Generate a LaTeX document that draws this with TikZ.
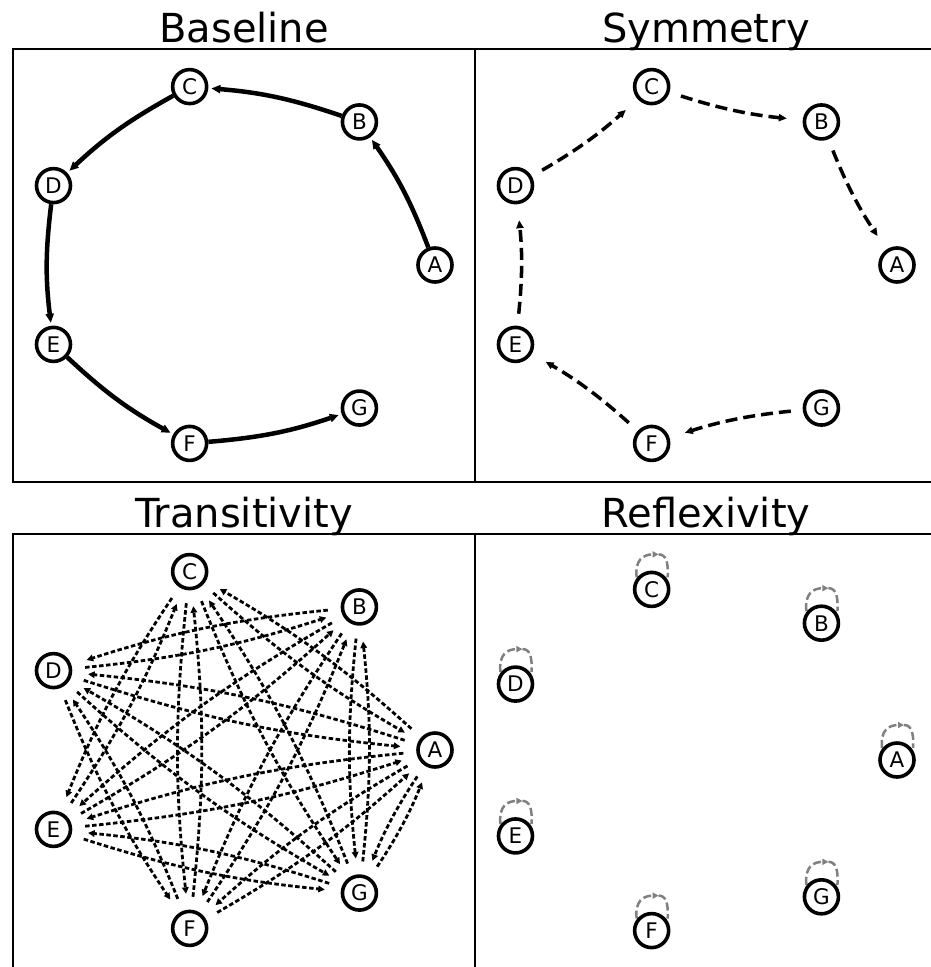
\documentclass[tikz,border=0pt]{standalone}
\usepackage{fontspec}
\setmainfont{DejaVu Sans}
\usetikzlibrary{arrows.meta}
\pgfdeclarelayer{bg}
\pgfsetlayers{bg,main}

% seven vertices on an ellipse: prefix, centre x, centre y, vertical radius
\newcommand\putverts[4]{%
  \foreach \n [count=\i from 0] in {A,B,C,D,E,F,G}
    \node[vtx] (#1\n) at ({#2+200.7*cos(\i*360/7)},{#3-#4*sin(\i*360/7)}) {\n};
}

\begin{document}
\begin{tikzpicture}[x=1pt,y=-1pt,
  vtx/.style={circle,draw=black,fill=white,line width=3.6pt,minimum size=34pt,
    inner sep=0pt,font=\fontsize{21.5}{21.5}\selectfont},
  panelbox/.style={draw=black,line width=1.3pt},
  paneltitle/.style={font=\fontsize{40}{40}\selectfont,anchor=base},
  basearc/.style={line width=4.5pt,-{Triangle[length=9pt,width=8pt]},
    shorten >=3pt,bend right=7},
  symarc/.style={line width=3.5pt,dash pattern=on 12pt off 6pt,
    -{Triangle[length=8pt,width=7pt]},shorten <=12pt,shorten >=16pt,bend right=6},
  transarc/.style={line width=2.8pt,dash pattern=on 4.5pt off 2.5pt,
    -{Triangle[length=6.5pt,width=6.5pt]},shorten <=13pt,shorten >=16pt,bend right=6},
  selfloop/.style={draw=gray,line width=2.5pt,dash pattern=on 8pt off 3.5pt}
]
\useasboundingbox (0,0) rectangle (931,967);
\clip (0,0) rectangle (931,967);

% panel frames
\draw[panelbox] (13,49) rectangle (475,482);
\draw[panelbox] (475,49) rectangle (937,482);
\draw[panelbox] (13,534) rectangle (475,970);
\draw[panelbox] (475,534) rectangle (937,970);

% panel titles
\node[paneltitle] (ttlB) at (244,42) {Baseline};
\node[paneltitle] (ttlS) at (706,42) {Symmetry};
\node[paneltitle] (ttlT) at (244,527) {Transitivity};
\node[paneltitle] (ttlR) at (706,527) {Reflexivity};

% vertices
\putverts{b}{234.3}{265}{183}
\putverts{s}{696.3}{265}{183}
\putverts{t}{234.3}{750}{183}
\putverts{r}{696.3}{760}{175}

\begin{pgfonlayer}{bg}
% chain
\foreach \u/\v in {A/B,B/C,C/D,D/E,E/F,F/G}
  \draw[basearc] (b\u) to (b\v);
% reversed chain
\foreach \u/\v in {B/A,C/B,D/C,E/D,F/E,G/F}
  \draw[symarc] (s\u) to (s\v);
% every non-adjacent pair, both ways
\foreach \u/\v in {A/C,A/D,A/E,A/F,A/G,B/D,B/E,B/F,B/G,C/E,C/F,C/G,D/F,D/G,E/G} {
  \draw[transarc] (t\u) to (t\v);
  \draw[transarc] (t\v) to (t\u);
}
% self loops
\foreach \n in {A,B,C,D,E,F,G} {
  \draw[selfloop] ([shift={(7,-35)}]r\n.center)
    .. controls ([shift={(14,-35)}]r\n.center) and ([shift={(17,-28)}]r\n.center)
    .. ([shift={(16,-12)}]r\n.center);
  \draw[selfloop,-{Triangle[length=6pt,width=6pt]}] ([shift={(-15,-12)}]r\n.center)
    .. controls ([shift={(-17,-30)}]r\n.center) and ([shift={(-8,-35)}]r\n.center)
    .. ([shift={(7,-35)}]r\n.center);
}
\end{pgfonlayer}
\end{tikzpicture}
\end{document}
